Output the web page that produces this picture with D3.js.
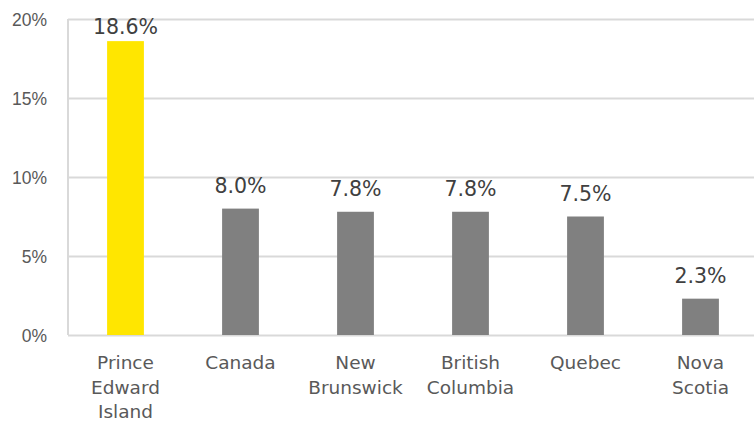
<!DOCTYPE html>
<html>
<head>
<meta charset="utf-8">
<script src="https://cdn.jsdelivr.net/npm/d3@7"></script>
<style>
  body { margin: 0; background: #fff; overflow: hidden; }
  svg { display: block; font-family: "DejaVu Sans", sans-serif; }
</style>
</head>
<body>
<div class="canvas"></div>
<script>
"use strict";

const categories = ["Prince Edward Island", "Canada", "New Brunswick", "British Columbia", "Quebec", "Nova Scotia"];
const values = [18.6, 8.0, 7.8, 7.8, 7.5, 2.3];
const yTicks = [0, 5, 10, 15, 20];

const width = 754;
const height = 421;
const margin = { top: 19, right: -4, bottom: 86, left: 68 };
const graphWidth = width - margin.left - margin.right;
const graphHeight = height - margin.top - margin.bottom;

const svg = d3.select(".canvas")
  .append("svg")
  .attr("width", width)
  .attr("height", height);

const graph = svg.append("g")
  .attr("transform", `translate(${margin.left}, ${margin.top})`);

const x = d3.scaleBand()
  .domain(categories)
  .range([0, graphWidth])
  .paddingInner(0.68)
  .paddingOuter(0.34);

const y = d3.scaleLinear()
  .domain([0, 20])
  .range([graphHeight, 0]);

// gridlines + y labels
const yAxis = d3.axisLeft(y)
  .tickValues(yTicks)
  .tickSize(-graphWidth)
  .tickPadding(21)
  .tickFormat((d) => d + "%");

graph.append("g")
  .call(yAxis)
  .call((g) => g.select(".domain").remove())
  .call((g) => g.selectAll(".tick line").attr("stroke", "#d9d9d9").attr("stroke-width", 2))
  .call((g) => g.selectAll(".tick text")
    .attr("fill", "#595959")
    .attr("font-size", 17.5)
    .attr("dy", "0.36em"));

// left axis line
graph.append("line")
  .attr("x1", 0).attr("x2", 0)
  .attr("y1", 0).attr("y2", graphHeight)
  .attr("stroke", "#d9d9d9")
  .attr("stroke-width", 2);

// bars
graph.selectAll(".bar")
  .data(values)
  .join("rect")
  .attr("class", "bar")
  .attr("x", (d, i) => x(categories[i]))
  .attr("y", (d) => y(d))
  .attr("width", x.bandwidth())
  .attr("height", (d) => graphHeight - y(d))
  .attr("fill", (d, i) => (i === 0 ? "#ffe600" : "#808080"));

// value labels (kept inside plot area)
graph.selectAll(".value")
  .data(values)
  .join("text")
  .attr("class", "value")
  .attr("x", (d, i) => x(categories[i]) + x.bandwidth() / 2)
  .attr("y", (d) => Math.max(y(d) - 16, 15))
  .attr("text-anchor", "middle")
  .attr("font-size", 20.5)
  .attr("fill", "#404040")
  .text((d) => d.toFixed(1) + "%");

// category labels, one word per line
const xLabels = graph.selectAll(".xlabel")
  .data(categories)
  .join("text")
  .attr("class", "xlabel")
  .attr("x", (d) => x(d) + x.bandwidth() / 2)
  .attr("y", graphHeight + 34)
  .attr("text-anchor", "middle")
  .attr("font-size", 18.5)
  .attr("fill", "#595959");

xLabels.each(function (d) {
  const el = d3.select(this);
  d.split(" ").forEach((word, i) => {
    el.append("tspan")
      .attr("x", x(d) + x.bandwidth() / 2)
      .attr("dy", i === 0 ? 0 : 24.5)
      .text(word);
  });
});
</script>
</body>
</html>
